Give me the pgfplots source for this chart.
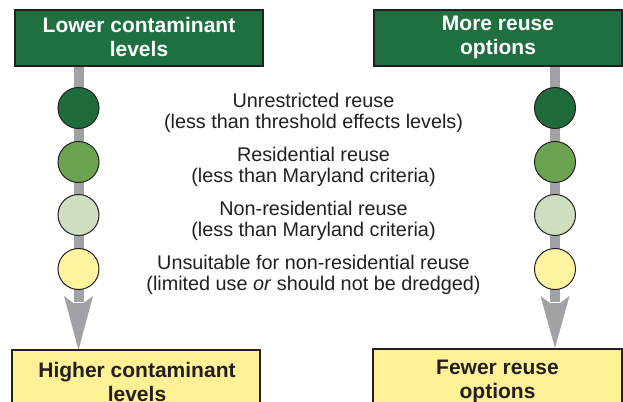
\documentclass[border=0pt]{standalone}
\usepackage{pgfplots}
\pgfplotsset{compat=1.18}
\usepackage{fontspec}
\setmainfont{Liberation Sans}
\definecolor{boxgreen}{HTML}{1F7040}
\definecolor{cone}{HTML}{1E6B3C}
\definecolor{ctwo}{HTML}{6BA450}
\definecolor{cthree}{HTML}{CFDDC0}
\definecolor{cfour}{HTML}{FFF5A0}
\definecolor{boxyellow}{HTML}{FFF296}
\definecolor{shaft}{HTML}{A0A2A6}
\definecolor{edge}{HTML}{231F20}
\begin{document}
\begin{tikzpicture}
\begin{axis}[name=ax, width=623bp, height=402bp, scale only axis, hide axis,
  xmin=0, xmax=623, ymin=0, ymax=402, y dir=reverse, clip=false]
% shafts
\addplot[draw=shaft, line width=10bp, mark=none] coordinates {(78.5,66) (78.5,302)};
\addplot[draw=shaft, line width=10bp, mark=none] coordinates {(555,66) (555,302)};
% arrow heads
\addplot[fill=shaft, draw=none, mark=none] coordinates {(64,296) (78.5,350) (93,296) (83.5,303) (73.5,303)} --cycle;
\addplot[fill=shaft, draw=none, mark=none] coordinates {(540.5,296) (555,348) (569.5,296) (560,303) (550,303)} --cycle;
% circles
\addplot[only marks, mark=*, mark size=20.5bp, mark options={fill=cone, draw=edge, line width=1bp}] coordinates {(78.5,108) (555,108)};
\addplot[only marks, mark=*, mark size=20.5bp, mark options={fill=ctwo, draw=edge, line width=1bp}] coordinates {(78.5,162) (555,162)};
\addplot[only marks, mark=*, mark size=20.5bp, mark options={fill=cthree, draw=edge, line width=1bp}] coordinates {(78.5,215) (555,215)};
\addplot[only marks, mark=*, mark size=20.5bp, mark options={fill=cfour, draw=edge, line width=1bp}] coordinates {(78.5,269) (555,269)};
% top boxes
\addplot[fill=boxgreen, draw=edge, line width=1.3bp, mark=none] coordinates {(15,10) (263,10) (263,66) (15,66)} --cycle;
\addplot[fill=boxgreen, draw=edge, line width=1.3bp, mark=none] coordinates {(374,10) (622,10) (622,66) (374,66)} --cycle;
% bottom boxes
\addplot[fill=boxyellow, draw=none, mark=none] coordinates {(12,350) (260,350) (260,402) (12,402)} --cycle;
\addplot[draw=edge, line width=1.3bp, mark=none] coordinates {(12,402) (12,350) (260,350) (260,402)};
\addplot[fill=boxyellow, draw=none, mark=none] coordinates {(373,349) (622,349) (622,402) (373,402)} --cycle;
\addplot[draw=edge, line width=1.3bp, mark=none] coordinates {(373,402) (373,349) (622,349) (622,402)};
% box texts
\node[align=center, font=\fontsize{21bp}{24bp}\selectfont\bfseries, text=white] at (axis cs:139,37) {Lower contaminant\\levels};
\node[align=center, font=\fontsize{21bp}{24bp}\selectfont\bfseries, text=white] at (axis cs:498,37) {More reuse\\options};
\node[align=center, font=\fontsize{21bp}{24bp}\selectfont\bfseries, text=edge] at (axis cs:137,381.5) {Higher contaminant\\levels};
\node[align=center, font=\fontsize{21bp}{24bp}\selectfont\bfseries, text=edge] at (axis cs:497.5,381.5) {Fewer reuse\\options};
% middle texts
\node[align=center, font=\fontsize{19.8bp}{21.5bp}\selectfont, text=edge] at (axis cs:313.5,113) {Unrestricted reuse\\(less than threshold effects levels)};
\node[align=center, font=\fontsize{19.8bp}{21.5bp}\selectfont, text=edge] at (axis cs:313.5,167) {Residential reuse\\(less than Maryland criteria)};
\node[align=center, font=\fontsize{19.8bp}{21.5bp}\selectfont, text=edge] at (axis cs:313.5,221) {Non-residential reuse\\(less than Maryland criteria)};
\node[align=center, font=\fontsize{19.8bp}{21.5bp}\selectfont, text=edge] at (axis cs:313.5,275) {Unsuitable for non-residential reuse\\(limited use \textit{or} should not be dredged)};
\end{axis}
\pgfresetboundingbox
\useasboundingbox (ax.south west) rectangle (ax.north east);
\end{tikzpicture}
\end{document}
